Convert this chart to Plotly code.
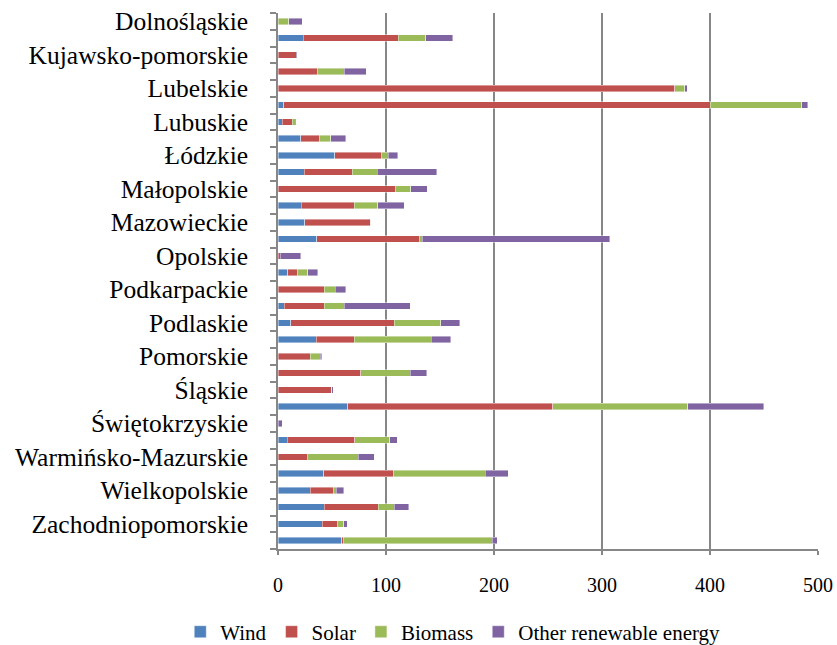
import plotly.graph_objects as go

regions = ["Dolnośląskie", "Kujawsko-pomorskie", "Lubelskie", "Lubuskie", "Łódzkie",
           "Małopolskie", "Mazowieckie", "Opolskie", "Podkarpackie", "Podlaskie",
           "Pomorskie", "Śląskie", "Świętokrzyskie", "Warmińsko-Mazurskie",
           "Wielkopolskie", "Zachodniopomorskie"]

# two bars per region, listed top to bottom (first bar of each pair carries the label)
wind = [0, 23.5, 0, 0, 0, 5.3, 4, 21, 52.6, 24.4, 0, 21.6, 24.7, 35.9, 0, 9,
        0, 5.9, 11.8, 35.3, 0, 0, 0, 64.7, 0, 8.6, 0, 42.4, 29.7, 43, 41.1, 59.1]
solar = [0, 88, 16.7, 36.5, 367.3, 395, 9.3, 17.3, 43.2, 44.5, 108.8, 49.2, 61.3, 95.1, 1.9, 9.3,
         43, 37.1, 95.8, 35.5, 30, 76.4, 49.8, 189.8, 0, 62.5, 26.9, 64.6, 21.6, 49.8, 13.6, 1.5]
biomass = [10, 25.5, 0, 24.7, 9.3, 84.6, 2.7, 10.5, 6.2, 22.9, 14.2, 21.7, 0, 2.6, 0, 9.3,
           9.9, 18.2, 43, 71.1, 9.3, 46, 0, 124.9, 0, 32.2, 47.3, 85, 2.8, 14.8, 6.2, 137.9]
other = [12.5, 25, 1.2, 20.4, 2.4, 5.7, 1, 14, 9, 55, 15, 24.5, 0.5, 173.4, 19.1, 9.2,
         9.6, 61.2, 17.6, 17.9, 1.2, 15.2, 1.2, 70.2, 3.7, 7.1, 14.8, 21, 6.8, 13.3, 3.1, 4.4]

series = [("Wind", wind, "#4F81BD"), ("Solar", solar, "#C0504D"),
          ("Biomass", biomass, "#9BBB59"), ("Other renewable energy", other, "#8064A2")]

row_keys = []
row_text = []
for r in regions:
    row_keys += [r + " #1", r + " #2"]
    row_text += [r, ""]

FONT = "Liberation Serif"
GRID = "#878787"

fig = go.Figure()
for name, vals, col in series:
    fig.add_trace(go.Bar(
        y=row_keys, x=vals, name=name, orientation="h",
        marker=dict(color=col, line=dict(color="rgba(255,255,255,0.7)", width=0.6)),
    ))

fig.update_layout(
    barmode="stack",
    bargap=0.6,
    width=837, height=645,
    margin=dict(l=278, r=19, t=13, b=96, autoexpand=False),
    paper_bgcolor="white", plot_bgcolor="white",
    font=dict(family=FONT, color="black"),
    showlegend=True,
    legend=dict(orientation="h", x=-0.181, xanchor="left",
                y=-0.155, yanchor="middle",
                font=dict(size=21, family=FONT), itemwidth=30,
                traceorder="normal", tracegroupgap=0),
)
fig.update_xaxes(
    range=[0, 500], dtick=100, tick0=0,
    showgrid=True, gridcolor=GRID, gridwidth=1.5,
    showline=True, linecolor=GRID, linewidth=1.5,
    ticks="outside", ticklen=4, tickcolor=GRID, tickwidth=1.5,
    tickfont=dict(size=20, family=FONT), ticklabelstandoff=13,
    zeroline=False, automargin=False,
)
fig.update_yaxes(
    type="category", categoryorder="array", categoryarray=row_keys,
    autorange="reversed",
    tickmode="array", tickvals=row_keys, ticktext=row_text,
    ticks="outside", tickson="boundaries", ticklen=6, tickcolor=GRID, tickwidth=1.5,
    showline=True, linecolor=GRID, linewidth=1.5,
    showgrid=False, automargin=False,
    tickfont=dict(size=25.5, family=FONT), ticklabelstandoff=23,
)

fig.write_html("out.html", config={"displayModeBar": False},
               post_script="document.body.style.margin='0';document.body.style.overflow='hidden';")
